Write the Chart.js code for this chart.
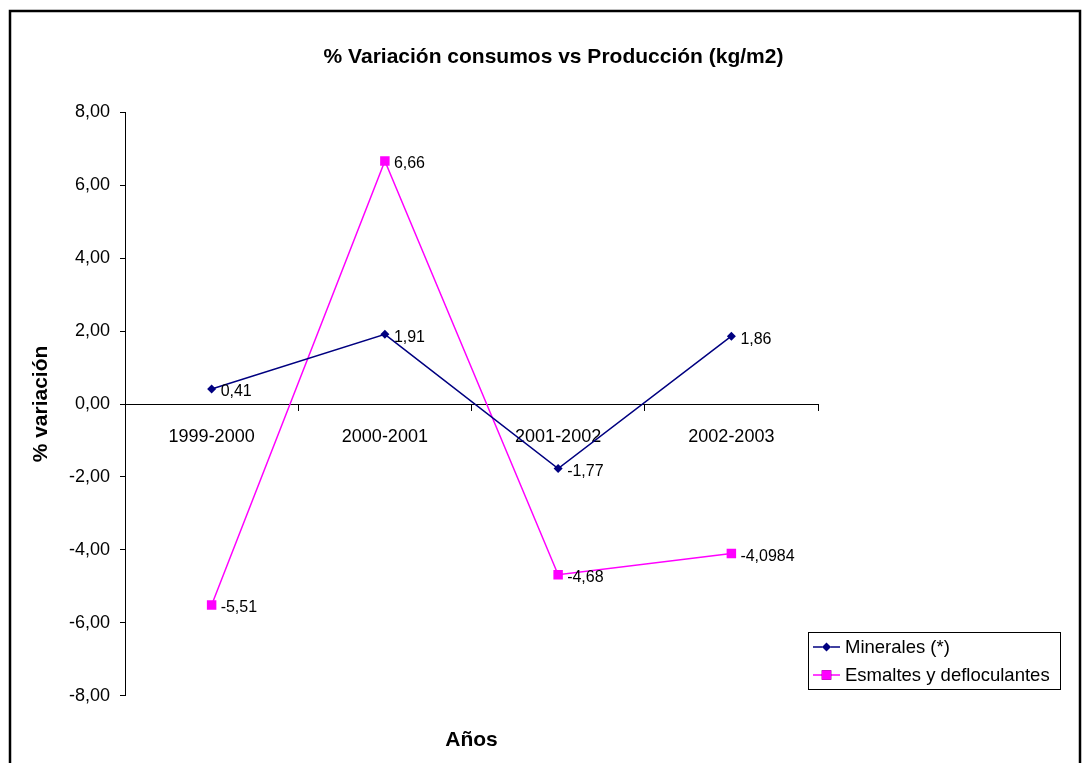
<!DOCTYPE html>
<html>
<head>
<meta charset="utf-8">
<script src="https://cdn.jsdelivr.net/npm/chart.js@4.4.0/dist/chart.umd.min.js"></script>
<style>
  body { margin: 0; background: #fff; }
</style>
</head>
<body>
<canvas id="chart" width="1082" height="763"></canvas>
<script>
// chart data
var years = ["1999-2000", "2000-2001", "2001-2002", "2002-2003"];
var minerales = [0.41, 1.91, -1.77, 1.86];
var esmaltes = [-5.51, 6.66, -4.68, -4.0984];
var seriesNames = ["Minerales (*)", "Esmaltes y defloculantes"];

var FONT = "'Liberation Sans', Arial, sans-serif";

function comma(v) {
    return String(v).replace(".", ",");
}

//white background and outer frame
var framePlugin = {
    id: "frame",
    beforeDraw: function(chart) {
        var c = chart.ctx;
        c.save();
        c.fillStyle = "#fff";
        c.fillRect(0, 0, chart.width, chart.height);
        c.strokeStyle = "#000";
        c.lineWidth = 2.5;
        c.strokeRect(10, 11, 1070, 800);
        c.restore();
    }
};

//value labels next to each point
var valueLabels = {
    id: "valueLabels",
    afterDatasetsDraw: function(chart) {
        var c = chart.ctx;
        c.save();
        c.font = "16px " + FONT;
        c.fillStyle = "#000";
        c.textAlign = "left";
        c.textBaseline = "middle";
        chart.data.datasets.forEach(function(ds, i) {
            chart.getDatasetMeta(i).data.forEach(function(pt, j) {
                c.fillText(comma(ds.data[j]), pt.x + 9, pt.y + 3);
            });
        });
        c.restore();
    }
};

//boxed legend in the lower right corner
var boxLegend = {
    id: "boxLegend",
    afterDraw: function(chart) {
        var c = chart.ctx;
        var x = 808, y = 632, w = 252, h = 57;
        c.save();
        c.fillStyle = "#fff";
        c.fillRect(x, y, w, h);
        c.strokeStyle = "#000";
        c.lineWidth = 1;
        c.strokeRect(x + 0.5, y + 0.5, w, h);
        c.font = "18.5px " + FONT;
        c.textBaseline = "middle";
        chart.data.datasets.forEach(function(ds, i) {
            var ly = y + 15 + i * 28;
            c.strokeStyle = ds.borderColor;
            c.lineWidth = 1.5;
            c.beginPath();
            c.moveTo(x + 5, ly);
            c.lineTo(x + 32, ly);
            c.stroke();
            Chart.helpers.drawPoint(c, {
                pointStyle: ds.pointStyle,
                radius: ds.pointRadius,
                borderWidth: 0
            }, x + 18.5, ly);
            c.fillStyle = ds.pointBackgroundColor;
            c.fill();
            c.fillStyle = "#000";
            c.fillText(ds.label, x + 37, ly + 1);
        });
        c.restore();
    }
};

var ctx = document.getElementById("chart");

var chart = new Chart(ctx, {
    type: "line",
    data: {
        labels: years,
        datasets: [
            {
                label: seriesNames[0],
                data: minerales,
                borderColor: "#000080",
                backgroundColor: "#000080",
                pointBackgroundColor: "#000080",
                pointBorderColor: "#000080",
                pointStyle: "rectRot",
                pointRadius: 4.5,
                pointBorderWidth: 0,
                borderWidth: 1.5,
                tension: 0
            },
            {
                label: seriesNames[1],
                data: esmaltes,
                borderColor: "#FF00FF",
                backgroundColor: "#FF00FF",
                pointBackgroundColor: "#FF00FF",
                pointBorderColor: "#FF00FF",
                pointStyle: "rect",
                pointRadius: 6.7,
                pointBorderWidth: 0,
                borderWidth: 1.5,
                tension: 0
            }
        ]
    },
    options: {
        responsive: false,
        animation: false,
        layout: {
            padding: { top: 35, left: 25, right: 0, bottom: 0 }
        },
        plugins: {
            legend: { display: false },
            tooltip: { enabled: false },
            title: {
                display: true,
                text: "% Variación consumos vs Producción (kg/m2)",
                color: "#000",
                font: { family: FONT, size: 21, weight: "bold" },
                padding: { top: 10, bottom: 42 }
            },
            subtitle: {
                display: true,
                position: "bottom",
                fullSize: false,
                text: "Años",
                color: "#000",
                font: { family: FONT, size: 21, weight: "bold" },
                padding: { top: 32, bottom: 10 }
            }
        },
        scales: {
            x: {
                position: { y: 0 },
                offset: true,
                grid: {
                    offset: true,
                    drawOnChartArea: false,
                    drawTicks: true,
                    tickLength: 6,
                    color: "#000"
                },
                border: { display: true, color: "#000", width: 1 },
                ticks: {
                    color: "#000",
                    font: { family: FONT, size: 18 },
                    padding: 16,
                    maxRotation: 0
                }
            },
            y: {
                min: -8,
                max: 8,
                afterFit: function(s) { s.width = 100; },
                grid: {
                    drawOnChartArea: false,
                    drawTicks: true,
                    tickLength: 5,
                    color: "#000"
                },
                border: { display: true, color: "#000", width: 1 },
                ticks: {
                    stepSize: 2,
                    color: "#000",
                    font: { family: FONT, size: 18 },
                    padding: 10,
                    callback: function(v) { return v.toFixed(2).replace(".", ","); }
                },
                title: {
                    display: true,
                    text: "% variación",
                    color: "#000",
                    font: { family: FONT, size: 21, weight: "bold" }
                }
            },
            //empty right-hand space, where the legend sits
            side: {
                type: "linear",
                position: "right",
                afterFit: function(s) { s.width = 264; },
                grid: { display: false },
                border: { display: false },
                ticks: { display: false }
            }
        }
    },
    plugins: [framePlugin, valueLabels, boxLegend]
});
</script>
</body>
</html>
